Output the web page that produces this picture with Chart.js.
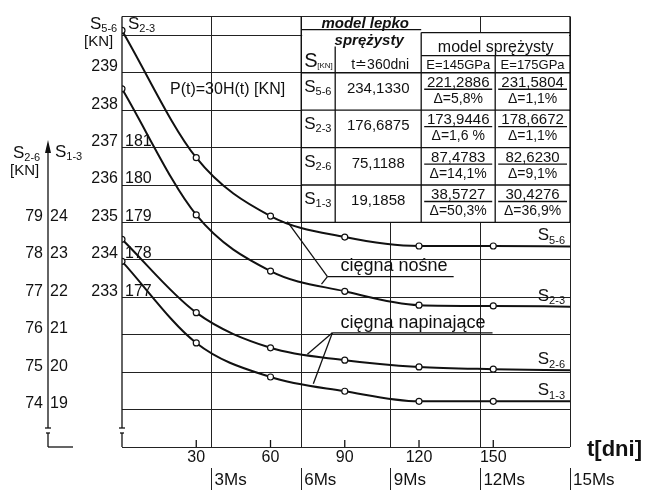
<!DOCTYPE html>
<html><head><meta charset="utf-8">
<script src="https://cdn.jsdelivr.net/npm/chart.js@4.4.1/dist/chart.umd.min.js"></script>
<style>html,body{margin:0;padding:0;background:#fff;}#wrap{width:647px;height:495px;}</style>
</head><body><div id="wrap"><canvas id="c" width="647" height="495"></canvas></div>
<script>
// ---- data ----
const days = [0, 30, 60, 90, 120, 150, 181];
const s56 = [240.13, 236.73, 235.17, 234.61, 234.37, 234.37, 234.36];
const s23 = [182.57, 179.20, 177.70, 177.16, 176.79, 176.77, 176.75];
const s26 = [78.55, 76.59, 75.65, 75.32, 75.14, 75.08, 75.05];
const s13 = [22.96, 20.78, 19.87, 19.49, 19.22, 19.22, 19.22];
const markedPoints = 6;

const dayTicks = [30, 60, 90, 120, 150];
const msTicks = [3, 6, 9, 12, 15];
const msLabels = ['3Ms', '6Ms', '9Ms', '12Ms', '15Ms'];
const s56Ticks = [233, 234, 235, 236, 237, 238, 239];
const s23Ticks = [177, 178, 179, 180, 181];
const s26Ticks = [74, 75, 76, 77, 78, 79];
const s13Ticks = [19, 20, 21, 22, 23, 24];
const s56Range = [229, 240.5];
const s23Shift = 56, s26Shift = 156, s13Shift = 211;

// table
const rowNames = ['5-6', '2-3', '2-6', '1-3'];
const rowLines = [239, 238, 237, 236, 235];
const visco360 = ['234,1330', '176,6875', '75,1188', '19,1858'];
const elast145 = ['221,2886', '173,9446', '87,4783', '38,5727'];
const delta145 = ['Δ=5,8%', 'Δ=1,6 %', 'Δ=14,1%', 'Δ=50,3%'];
const elast175 = ['231,5804', '178,6672', '82,6230', '30,4276'];
const delta175 = ['Δ=1,1%', 'Δ=1,1%', 'Δ=9,1%', 'Δ=36,9%'];

const FAM = "'Liberation Sans', Arial, sans-serif";
const fnt = (s, w) => (w ? w + ' ' : '') + s + 'px ' + FAM;
Chart.defaults.font.family = FAM;
Chart.defaults.color = '#111';

function pts(vals) { return days.map((d, i) => ({x: d, y: vals[i]})); }
function ds(vals, axis) {
  return {
    data: pts(vals), yAxisID: axis, xAxisID: 'x',
    borderColor: '#111', borderWidth: 2, cubicInterpolationMode: 'monotone',
    pointRadius: c => c.dataIndex < markedPoints ? 3 : 0,
    pointBackgroundColor: '#fff', pointBorderColor: '#111', pointBorderWidth: 1.2,
    fill: false
  };
}
function setTicks(arr) { return s => { s.ticks = arr.map(v => ({value: v})); }; }
function gridTicks(s) {
  const t = [];
  for (let v = Math.ceil(s.min); v <= Math.floor(s.max); v++) t.push({value: v});
  if (t[t.length - 1].value !== s.max) t.push({value: s.max});
  s.ticks = t;
}

function textSub(ctx, x, yb, main, sub, size, subSize, align) {
  ctx.font = fnt(size); const w1 = ctx.measureText(main).width;
  ctx.font = fnt(subSize); const w2 = ctx.measureText(sub).width;
  let x0 = x;
  if (align === 'right') x0 = x - w1 - w2;
  if (align === 'center') x0 = x - (w1 + w2) / 2;
  ctx.textAlign = 'left'; ctx.textBaseline = 'alphabetic';
  ctx.font = fnt(size); ctx.fillText(main, x0, yb);
  ctx.font = fnt(subSize); ctx.fillText(sub, x0 + w1, yb + subSize * 0.3);
}

const decor = {
  id: 'decor',
  afterDraw(chart) {
    const {ctx, chartArea: ca, scales} = chart;
    const X = scales.x, M = scales.ms, Y = scales.y;
    const line = (x1, y1, x2, y2) => { ctx.beginPath(); ctx.moveTo(x1, y1); ctx.lineTo(x2, y2); ctx.stroke(); };
    ctx.save();
    ctx.strokeStyle = '#111'; ctx.fillStyle = '#111'; ctx.lineWidth = 1.3;

    // small day tick marks inside plot
    dayTicks.forEach(d => { const p = X.getPixelForValue(d); line(p, ca.bottom, p, ca.bottom - 7); });

    // main left axis with break
    const b1 = ca.bottom - 19, b2 = ca.bottom - 14;
    line(ca.left, ca.top, ca.left, b1);
    line(ca.left - 3, b1, ca.left + 3, b1);
    line(ca.left - 2, b2, ca.left + 2, b2);
    line(ca.left, b2, ca.left, ca.bottom);

    // outer axis (S2-6 / S1-3)
    const ox = scales.y26.right - 2;
    const tip = Y.getPixelForValue(237.2);
    line(ox, tip + 8, ox, b1);
    ctx.beginPath(); ctx.moveTo(ox, tip); ctx.lineTo(ox - 3, tip + 13); ctx.lineTo(ox + 3, tip + 13); ctx.closePath(); ctx.fill();
    line(ox - 3, b1, ox + 3, b1);
    line(ox - 2, b2, ox + 2, b2);
    line(ox, b2, ox, ca.bottom);
    line(ox, ca.bottom, ox + 25, ca.bottom);

    // axis headers
    textSub(ctx, 90, 29, 'S', '5-6', 17, 11);
    textSub(ctx, 128, 29, 'S', '2-3', 17, 11);
    ctx.font = fnt(15); ctx.fillText('[KN]', 84, 46);
    textSub(ctx, 13, 158, 'S', '2-6', 17, 11);
    textSub(ctx, 55, 157, 'S', '1-3', 17, 11);
    ctx.font = fnt(15); ctx.fillText('[KN]', 10, 175);

    ctx.font = fnt(16); ctx.fillText('P(t)=30H(t) [KN]', 170, 94);
    ctx.font = fnt(22, 'bold'); ctx.fillText('t[dni]', 587, 456);

    // ---- table ----
    const L = M.getPixelForValue(6), R = ca.right;
    const c1 = L + 34, c2 = L + 120, c3 = L + 194;
    const ry = rowLines.map(v => Y.getPixelForValue(v));
    const bot = ry[ry.length - 1];
    ctx.fillStyle = '#fff';
    ctx.fillRect(L + 1, ca.top + 1, c2 - L - 1, bot - ca.top - 1);
    ctx.fillRect(c2, ca.top + 16, R - c2 - 1, bot - ca.top - 16);
    ctx.fillStyle = '#111';
    line(L, ca.top, L, bot);
    line(R, ca.top, R, bot);
    line(L, ca.top + 13, c2, ca.top + 13);
    line(c2, ca.top + 16, R, ca.top + 16);
    line(c2, ca.top + 16, c2, bot);
    line(c2, ca.top + 39, R, ca.top + 39);
    line(c3, ca.top + 39, c3, bot);
    line(c1, ca.top + 30, c1, bot);
    ry.forEach(y => line(L, y, R, y));

    ctx.textAlign = 'center';
    ctx.font = fnt(15, 'italic bold'); ctx.fillText('model lepko', (L + c2) / 2 + 4, ca.top + 11);
    ctx.fillText('sprężysty', (L + c2) / 2 + 8, ca.top + 28);
    ctx.font = fnt(16); ctx.fillText('model sprężysty', (c2 + R) / 2, ca.top + 35);
    ctx.font = fnt(13); ctx.fillText('E=145GPa', (c2 + c3) / 2, ry[0] - 4);
    ctx.fillText('E=175GPa', (c3 + R) / 2, ry[0] - 4);
    ctx.font = fnt(14); ctx.fillText('t≐360dni', (c1 + c2) / 2 + 2, ry[0] - 4);
    ctx.textAlign = 'left';
    ctx.font = fnt(20); ctx.fillText('S', L + 3, ry[0] - 6);
    ctx.font = fnt(8); ctx.fillText('[KN]', L + 16, ry[0] - 5);

    for (let i = 0; i < rowNames.length; i++) {
      const rt = ry[i];
      textSub(ctx, L + 3, rt + 19, 'S', rowNames[i], 17, 11);
      ctx.textAlign = 'center';
      ctx.font = fnt(15); ctx.fillText(visco360[i], (c1 + c2) / 2, rt + 20);
      const cols = [[c2, c3, elast145[i], delta145[i]], [c3, R, elast175[i], delta175[i]]];
      cols.forEach(([a, b, v, d]) => {
        ctx.font = fnt(15); ctx.fillText(v, (a + b) / 2, rt + 14);
        line(a + 3, rt + 16.5, b - 3, rt + 16.5);
        ctx.font = fnt(14); ctx.fillText(d, (a + b) / 2, rt + 30);
      });
      ctx.textAlign = 'left';
    }

    // ---- annotations ----
    const P = (t, v) => [X.getPixelForValue(t), Y.getPixelForValue(v)];
    const vN = P(83, 233.55), aN1 = P(66.8, 235.02), aN2 = P(80.6, 233.35), eN = P(134, 233.55);
    line(aN1[0], aN1[1], vN[0], vN[1]); line(vN[0], vN[1], aN2[0], aN2[1]); line(vN[0], vN[1], eN[0], eN[1]);
    ctx.font = fnt(18); ctx.fillText('cięgna nośne', vN[0] + 13, vN[1] - 6);
    const vP = P(85, 232.05), aP1 = P(74.9, 231.48), aP2 = P(77.3, 230.69), eP = P(149.7, 232.05);
    line(aP1[0], aP1[1], vP[0], vP[1]); line(vP[0], vP[1], aP2[0], aP2[1]); line(vP[0], vP[1], eP[0], eP[1]);
    ctx.fillText('cięgna napinające', vP[0] + 8, vP[1] - 5);

    // series labels at right end
    const ends = [[s56[s56.length - 1], 'y', '5-6'], [s23[s23.length - 1], 'y23', '2-3'], [s26[s26.length - 1], 'y26', '2-6'], [s13[s13.length - 1], 'y13', '1-3']];
    ends.forEach(([v, ax, n]) => {
      const yy = scales[ax].getPixelForValue(v);
      textSub(ctx, R - 5, yy - 6, 'S', n, 17, 11, 'right');
    });
    ctx.restore();
  }
};

new Chart(document.getElementById('c'), {
  type: 'line',
  data: { datasets: [ds(s56, 'y'), ds(s23, 'y23'), ds(s26, 'y26'), ds(s13, 'y13')] },
  options: {
    responsive: false, animation: false, devicePixelRatio: 1,
    layout: { padding: { top: 11, right: 77, left: 0, bottom: 0 } },
    plugins: { legend: { display: false }, tooltip: { enabled: false }, title: { display: false } },
    scales: {
      x: {
        type: 'linear', position: 'bottom', weight: 0, min: 0, max: days[days.length - 1],
        afterBuildTicks: setTicks(dayTicks), afterFit: s => { s.height = 21; },
        grid: { display: false, drawTicks: false }, border: { display: false },
        ticks: { padding: 1, font: { size: 16 }, color: '#111', maxRotation: 0, autoSkip: false }
      },
      ms: {
        type: 'linear', position: 'bottom', weight: 1, min: 0, max: 15,
        afterBuildTicks: setTicks(msTicks), afterFit: s => { s.height = 27; },
        grid: { display: true, drawOnChartArea: true, drawTicks: true, tickLength: 22, color: '#222', lineWidth: 1 },
        border: { display: false },
        ticks: { align: 'start', padding: -20, labelOffset: 3, font: { size: 17 }, color: '#111', maxRotation: 0, autoSkip: false,
                 callback: (v, i) => msLabels[i] }
      },
      y: {
        type: 'linear', position: 'left', weight: 1, min: s56Range[0], max: s56Range[1],
        afterBuildTicks: gridTicks, afterFit: s => { s.width = 42; },
        grid: { color: '#222', lineWidth: 1, drawTicks: false }, border: { display: false },
        ticks: { padding: 4, labelOffset: -6, font: { size: 16 }, color: '#111', autoSkip: false,
                 callback: v => s56Ticks.includes(v) ? String(v) : '' }
      },
      y23: {
        type: 'linear', position: 'left', weight: 0, min: s56Range[0] - s23Shift, max: s56Range[1] - s23Shift,
        afterBuildTicks: setTicks(s23Ticks), afterFit: s => { s.width = 0; },
        grid: { display: false, drawTicks: false }, border: { display: false },
        ticks: { mirror: true, padding: 3, labelOffset: -6, font: { size: 16 }, color: '#111', autoSkip: false }
      },
      y13: {
        type: 'linear', position: 'left', weight: 2, min: s56Range[0] - s13Shift, max: s56Range[1] - s13Shift,
        afterBuildTicks: setTicks(s13Ticks), afterFit: s => { s.width = 30; },
        grid: { display: false, drawTicks: false }, border: { display: false },
        ticks: { crossAlign: 'far', padding: 0, labelOffset: -6, font: { size: 16 }, color: '#111', autoSkip: false }
      },
      y26: {
        type: 'linear', position: 'left', weight: 3, min: s56Range[0] - s26Shift, max: s56Range[1] - s26Shift,
        afterBuildTicks: setTicks(s26Ticks), afterFit: s => { s.width = 50; },
        grid: { display: false, drawTicks: false }, border: { display: false },
        ticks: { padding: 7, labelOffset: -6, font: { size: 16 }, color: '#111', autoSkip: false }
      }
    }
  },
  plugins: [decor]
});
</script></body></html>
